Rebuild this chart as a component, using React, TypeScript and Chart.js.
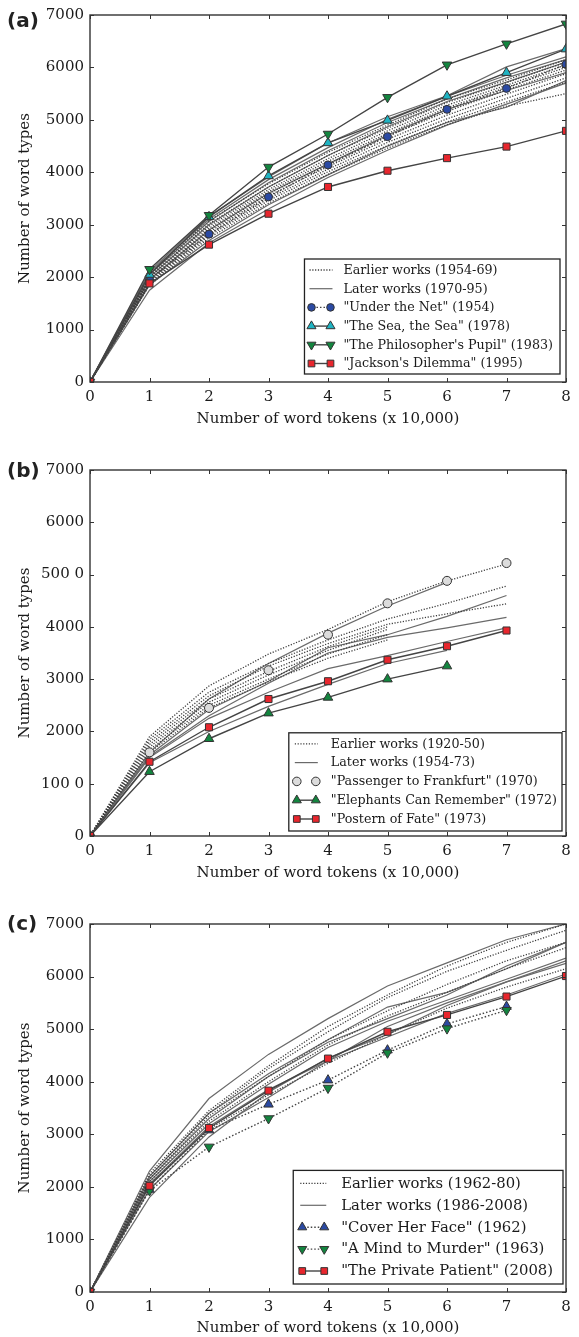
import React, { useRef, useEffect } from "react";
import { Chart, registerables } from "chart.js";
import { drawPoint } from "chart.js/helpers";

Chart.register(...registerables);

// shared axes
const tokens = [0, 1, 2, 3, 4, 5, 6, 7, 8];
const typeTicks = [0, 1000, 2000, 3000, 4000, 5000, 6000, 7000];
const typeLabelsA = ["0", "1000", "2000", "3000", "4000", "5000", "6000", "7000"];
const typeLabelsB = ["0", "100 0", "2000", "3000", "4000", "500 0", "6000", "7000"];
const typeLabelsC = ["0", "1000", "2000", "3000", "4000", "5000", "6000", "7000"];
const xTitle = "Number of word tokens (x 10,000)";
const yTitle = "Number of word types";

// (a) Murdoch
const underTheNet = [0, 1950, 2820, 3530, 4140, 4680, 5200, 5600, 6060];
const seaTheSea = [0, 2050, 3150, 3930, 4560, 4990, 5450, 5900, 6350];
const philosophersPupil = [0, 2150, 3180, 4100, 4730, 5430, 6050, 6450, 6830];
const jacksonsDilemma = [0, 1880, 2620, 3210, 3720, 4030, 4270, 4490, 4790];
const murdochEarlier = [
	[0, 2060, 3080, 3780, 4380, 4900, 5400, 5760, 6150],
	[0, 2020, 3020, 3720, 4320, 4840, 5330, 5710, 6100],
	[0, 1990, 2970, 3670, 4260, 4790, 5280, 5660, 6050],
	[0, 1960, 2930, 3630, 4210, 4740, 5230, 5620, 6000],
	[0, 1940, 2890, 3590, 4160, 4690, 5160, 5570, 5950],
	[0, 1910, 2860, 3550, 4110, 4630, 5090, 5490, 5880],
	[0, 1890, 2820, 3500, 4060, 4570, 5020, 5410, 5800],
	[0, 1870, 2790, 3460, 4010, 4510, 4960, 5340, 5720],
	[0, 1850, 2750, 3410, 3960, 4460, 4910, 5260, 5500],
];
const murdochLater = [
	[0, 2110, 3160, 3910, 4560, 5060, 5460, 6010, 6360],
	[0, 2090, 3110, 3860, 4470, 5010, 5450, 5850, 6200],
	[0, 2050, 3060, 3800, 4410, 4950, 5400, 5800, 6150],
	[0, 2000, 3000, 3720, 4320, 4870, 5350, 5720, 6100],
	[0, 1950, 2900, 3600, 4160, 4710, 5200, 5560, 5900],
	[0, 1850, 2700, 3380, 3950, 4500, 4950, 5240, 5750],
	[0, 1750, 2650, 3300, 3900, 4420, 4900, 5300, 5700],
];

// (b) Christie
const passengerToFrankfurt = [0, 1600, 2450, 3170, 3850, 4450, 4880, 5220];
const elephantsCanRemember = [0, 1230, 1860, 2350, 2650, 3000, 3250];
const posternOfFate = [0, 1420, 2080, 2620, 2960, 3370, 3630, 3930];
const christieEarlier = [
	[0, 1900, 2870, 3480, 3950, 4480, 4880, 5200],
	[0, 1850, 2750, 3300, 3750, 4150, 4450, 4780],
	[0, 1800, 2680, 3250, 3680, 4050, 4250, 4440],
	[0, 1750, 2620, 3150, 3620, 4000],
	[0, 1700, 2560, 3080, 3550, 3950],
	[0, 1650, 2500, 3000, 3480, 3850],
	[0, 1600, 2450, 2950, 3400, 3750],
];
const christieLater = [
	[0, 1600, 2620, 3300, 3880, 4400, 4850],
	[0, 1550, 2420, 2960, 3600, 3850, 4200, 4600],
	[0, 1520, 2300, 2920, 3500, 3800, 3980, 4180],
	[0, 1500, 2250, 2750, 3200, 3450, 3720, 3980],
	[0, 1400, 2000, 2480, 2900, 3300, 3550],
];

// (c) James
const coverHerFace = [0, 1950, 3080, 3570, 4030, 4600, 5100, 5430];
const mindToMurder = [0, 1930, 2760, 3300, 3880, 4550, 5010, 5360];
const privatePatient = [0, 2020, 3120, 3830, 4440, 4950, 5270, 5620, 6010];
const jamesEarlier = [
	[0, 2250, 3450, 4300, 5050, 5650, 6200, 6650, 7000],
	[0, 2200, 3400, 4250, 4950, 5600, 6100, 6500, 6880],
	[0, 2150, 3350, 4100, 4800, 5350, 5850, 6300, 6650],
	[0, 2100, 3250, 4000, 4700, 5250, 5700, 6150, 6550],
	[0, 2050, 3100, 3750, 4350, 4900, 5400, 5800, 6150],
];
const jamesLater = [
	[0, 2300, 3680, 4520, 5200, 5820, 6260, 6700, 7000],
	[0, 2200, 3400, 4150, 4800, 5420, 5700, 6150, 6650],
	[0, 2150, 3300, 4100, 4750, 5200, 5650, 6200, 6650],
	[0, 2100, 3200, 3950, 4650, 5150, 5550, 5950, 6350],
	[0, 2050, 3150, 3850, 4400, 5050, 5500, 5900, 6300],
	[0, 1800, 2950, 3800, 4450, 4900, 5450, 5900, 6250],
	[0, 1950, 3050, 3700, 4400, 4850, 5300, 5650, 6050],
];

const SERIF = '"DejaVu Serif", serif';
const toPoints = (vals: number[]) => vals.map((v, i) => ({ x: tokens[i], y: v }));

const grayLine = (vals: number[], label: string, dotted: boolean) => ({
	label,
	data: toPoints(vals),
	borderColor: dotted ? "#3c3c3c" : "#6a6a6a",
	borderWidth: dotted ? 1.3 : 1.2,
	borderDash: dotted ? [1.2, 1.6] : [],
	pointRadius: 0,
	order: 10,
});

const markedLine = (
	vals: number[],
	label: string,
	style: string,
	fill: string,
	radius: number,
	rotation: number,
	line: string,
	order: number
) => ({
	label,
	data: toPoints(vals),
	showLine: line !== "none",
	borderColor: "#444444",
	borderWidth: 1.4,
	borderDash: line === "dotted" ? [1.5, 2] : [],
	pointStyle: style,
	pointRadius: radius,
	pointRotation: rotation,
	pointBackgroundColor: fill,
	pointBorderColor: "#333333",
	pointBorderWidth: 1,
	order,
});

const frameTicks = {
	id: "frameTicks",
	afterDatasetsDraw(chart: any) {
		const { ctx, chartArea: a, scales } = chart;
		ctx.save();
		ctx.strokeStyle = "#333";
		ctx.lineWidth = 1;
		ctx.beginPath();
		tokens.forEach((t) => {
			const x = Math.round(scales.x.getPixelForValue(t)) + 0.5;
			ctx.moveTo(x, a.bottom);
			ctx.lineTo(x, a.bottom - 4);
			ctx.moveTo(x, a.top);
			ctx.lineTo(x, a.top + 4);
		});
		typeTicks.forEach((t) => {
			const y = Math.round(scales.y.getPixelForValue(t)) + 0.5;
			ctx.moveTo(a.left, y);
			ctx.lineTo(a.left + 4, y);
			ctx.moveTo(a.right, y);
			ctx.lineTo(a.right - 4, y);
		});
		ctx.stroke();
		ctx.lineWidth = 1.4;
		ctx.strokeRect(a.left, a.top, a.right - a.left, a.bottom - a.top);
		ctx.restore();
	},
};

const insetLegend = {
	id: "insetLegend",
	afterDraw(chart: any, _args: any, opts: any) {
		if (!opts || !opts.entries) return;
		const { ctx, chartArea } = chart;
		const datasets = chart.data.datasets;
		ctx.save();
		ctx.font = `${opts.fontSize}px ${SERIF}`;
		const textW = Math.max(...opts.entries.map((e: string) => ctx.measureText(e).width));
		const boxW = opts.padL + opts.sampleW + opts.gap + textW + opts.padR;
		const boxH = opts.padT + (opts.entries.length - 1) * opts.rowH + opts.padB;
		const right = chartArea.right - opts.marginR;
		const bottom = chartArea.bottom - opts.marginB;
		const left = right - boxW;
		const top = bottom - boxH;
		ctx.fillStyle = "#ffffff";
		ctx.fillRect(left, top, boxW, boxH);
		ctx.strokeStyle = "#222";
		ctx.lineWidth = 1.3;
		ctx.strokeRect(left, top, boxW, boxH);
		opts.entries.forEach((label: string, i: number) => {
			const ds = datasets.find((d: any) => d.label === label);
			const y = top + opts.padT + i * opts.rowH;
			const x0 = left + opts.padL;
			const x1 = x0 + opts.sampleW;
			if (ds.showLine !== false) {
				ctx.setLineDash(ds.borderDash || []);
				ctx.strokeStyle = ds.borderColor;
				ctx.lineWidth = ds.borderWidth;
				ctx.beginPath();
				ctx.moveTo(x0 - 2, y);
				ctx.lineTo(x1 + 2, y);
				ctx.stroke();
			}
			ctx.setLineDash([]);
			if (ds.pointRadius > 0) {
				const p = {
					pointStyle: ds.pointStyle,
					radius: ds.pointRadius * 0.95,
					rotation: ds.pointRotation || 0,
					borderWidth: 1,
				};
				ctx.fillStyle = ds.pointBackgroundColor;
				ctx.strokeStyle = ds.pointBorderColor;
				ctx.lineWidth = 1;
				drawPoint(ctx, p, x0, y);
				ctx.fillStyle = ds.pointBackgroundColor;
				ctx.strokeStyle = ds.pointBorderColor;
				drawPoint(ctx, p, x1, y);
			}
			ctx.fillStyle = "#1a1a1a";
			ctx.textAlign = "left";
			ctx.textBaseline = "middle";
			ctx.fillText(label, x1 + opts.gap, y + 0.5);
		});
		ctx.restore();
	},
};

interface PanelProps {
	letter: string;
	top: number;
	height: number;
	padTop: number;
	axisHeight: number;
	titlePad: number;
	labelTop: number;
	yLabels: string[];
	datasets: any[];
	legend: any;
}

const Panel: React.FC<PanelProps> = ({
	letter,
	top,
	height,
	padTop,
	axisHeight,
	titlePad,
	labelTop,
	yLabels,
	datasets,
	legend,
}) => {
	const canvasRef = useRef<HTMLCanvasElement | null>(null);

	useEffect(() => {
		if (!canvasRef.current) return;
		const tickFont = { family: SERIF, size: 15 };
		const chart = new Chart(canvasRef.current, {
			type: "line",
			data: { datasets },
			plugins: [frameTicks, insetLegend],
			options: {
				animation: false,
				responsive: false,
				maintainAspectRatio: false,
				layout: { padding: { top: padTop, right: 13, left: 0, bottom: 0 } },
				elements: { line: { tension: 0, fill: false } },
				plugins: {
					legend: { display: false },
					tooltip: { enabled: false },
					insetLegend: legend,
				} as any,
				scales: {
					x: {
						type: "linear",
						min: 0,
						max: 8,
						afterBuildTicks: (s: any) => {
							s.ticks = tokens.map((v) => ({ value: v }));
						},
						afterFit: (s: any) => {
							s.height = axisHeight;
						},
						grid: { display: false, drawTicks: false },
						border: { display: false },
						ticks: { padding: 6, font: tickFont, color: "#1a1a1a" },
						title: {
							display: true,
							text: xTitle,
							font: tickFont,
							color: "#1a1a1a",
							padding: { top: 0, bottom: titlePad },
						},
					},
					y: {
						type: "linear",
						min: 0,
						max: 7000,
						afterBuildTicks: (s: any) => {
							s.ticks = typeTicks.map((v) => ({ value: v }));
						},
						afterFit: (s: any) => {
							s.width = 90;
						},
						grid: { display: false, drawTicks: false },
						border: { display: false },
						ticks: {
							padding: 6,
							font: tickFont,
							color: "#1a1a1a",
							callback: (v: any) => yLabels[typeTicks.indexOf(Number(v))],
						},
						title: {
							display: true,
							text: yTitle,
							font: tickFont,
							color: "#1a1a1a",
							padding: { top: 16, bottom: 0 },
						},
					},
				},
			} as any,
		});
		return () => {
			chart.destroy();
		};
	}, []);

	return (
		<div style={{ position: "absolute", left: 0, top, width: 579, height }}>
			<canvas
				ref={canvasRef}
				width={579}
				height={height}
				style={{ display: "block", width: 579, height }}
			/>
			<div
				style={{
					position: "absolute",
					left: 7,
					top: labelTop,
					fontFamily: '"DejaVu Sans", sans-serif',
					fontWeight: "bold",
					fontSize: 20,
					lineHeight: "22px",
					color: "#222",
				}}
			>
				({letter})
			</div>
		</div>
	);
};

const App: React.FC = () => {
	const dsA = [
		...murdochEarlier.map((v) => grayLine(v, "Earlier works (1954-69)", true)),
		...murdochLater.map((v) => grayLine(v, "Later works (1970-95)", false)),
		markedLine(underTheNet, '"Under the Net" (1954)', "circle", "#2b4aa3", 4, 0, "dotted", 4),
		markedLine(seaTheSea, '"The Sea, the Sea" (1978)', "triangle", "#1fb3c2", 5.5, 0, "solid", 3),
		markedLine(philosophersPupil, '"The Philosopher\'s Pupil" (1983)', "triangle", "#13853f", 5.5, 180, "solid", 2),
		markedLine(jacksonsDilemma, '"Jackson\'s Dilemma" (1995)', "rect", "#e8262d", 5, 0, "solid", 1),
	];
	const legendA = {
		entries: [
			"Earlier works (1954-69)",
			"Later works (1970-95)",
			'"Under the Net" (1954)',
			'"The Sea, the Sea" (1978)',
			'"The Philosopher\'s Pupil" (1983)',
			'"Jackson\'s Dilemma" (1995)',
		],
		fontSize: 12.7,
		rowH: 18.7,
		padL: 7,
		sampleW: 19,
		gap: 13,
		padR: 7,
		padT: 11,
		padB: 10.5,
		marginR: 6,
		marginB: 8,
	};

	const dsB = [
		...christieEarlier.map((v) => grayLine(v, "Earlier works (1920-50)", true)),
		...christieLater.map((v) => grayLine(v, "Later works (1954-73)", false)),
		markedLine(passengerToFrankfurt, '"Passenger to Frankfurt" (1970)', "circle", "#dcdcdc", 4.5, 0, "none", 3),
		markedLine(elephantsCanRemember, '"Elephants Can Remember" (1972)', "triangle", "#13853f", 5.5, 0, "solid", 2),
		markedLine(posternOfFate, '"Postern of Fate" (1973)', "rect", "#e8262d", 5, 0, "solid", 1),
	];
	const legendB = {
		entries: [
			"Earlier works (1920-50)",
			"Later works (1954-73)",
			'"Passenger to Frankfurt" (1970)',
			'"Elephants Can Remember" (1972)',
			'"Postern of Fate" (1973)',
		],
		fontSize: 12.7,
		rowH: 18.8,
		padL: 8,
		sampleW: 19,
		gap: 15,
		padR: 5,
		padT: 11,
		padB: 12,
		marginR: 4,
		marginB: 5,
	};

	const dsC = [
		...jamesEarlier.map((v) => grayLine(v, "Earlier works (1962-80)", true)),
		...jamesLater.map((v) => grayLine(v, "Later works (1986-2008)", false)),
		markedLine(coverHerFace, '"Cover Her Face" (1962)', "triangle", "#2b4aa3", 5.5, 0, "dotted", 3),
		markedLine(mindToMurder, '"A Mind to Murder" (1963)', "triangle", "#13853f", 5.5, 180, "dotted", 2),
		markedLine(privatePatient, '"The Private Patient" (2008)', "rect", "#e8262d", 5, 0, "solid", 1),
	];
	const legendC = {
		entries: [
			"Earlier works (1962-80)",
			"Later works (1986-2008)",
			'"Cover Her Face" (1962)',
			'"A Mind to Murder" (1963)',
			'"The Private Patient" (2008)',
		],
		fontSize: 14.8,
		rowH: 21.9,
		padL: 9,
		sampleW: 22,
		gap: 17,
		padR: 10,
		padT: 13,
		padB: 13,
		marginR: 3,
		marginB: 8,
	};

	return (
		<div
			style={{
				position: "absolute",
				left: 0,
				top: 0,
				width: 579,
				height: 1337,
				background: "#ffffff",
				overflow: "hidden",
			}}
		>
			<Panel
				letter="a"
				top={0}
				height={440}
				padTop={15}
				axisHeight={58}
				titlePad={12}
				labelTop={9}
				yLabels={typeLabelsA}
				datasets={dsA}
				legend={legendA}
			/>
			<Panel
				letter="b"
				top={448}
				height={447}
				padTop={22}
				axisHeight={59}
				titlePad={13}
				labelTop={11}
				yLabels={typeLabelsB}
				datasets={dsB}
				legend={legendB}
			/>
			<Panel
				letter="c"
				top={900}
				height={437}
				padTop={24}
				axisHeight={45}
				titlePad={0}
				labelTop={12}
				yLabels={typeLabelsC}
				datasets={dsC}
				legend={legendC}
			/>
		</div>
	);
};

export default App;
